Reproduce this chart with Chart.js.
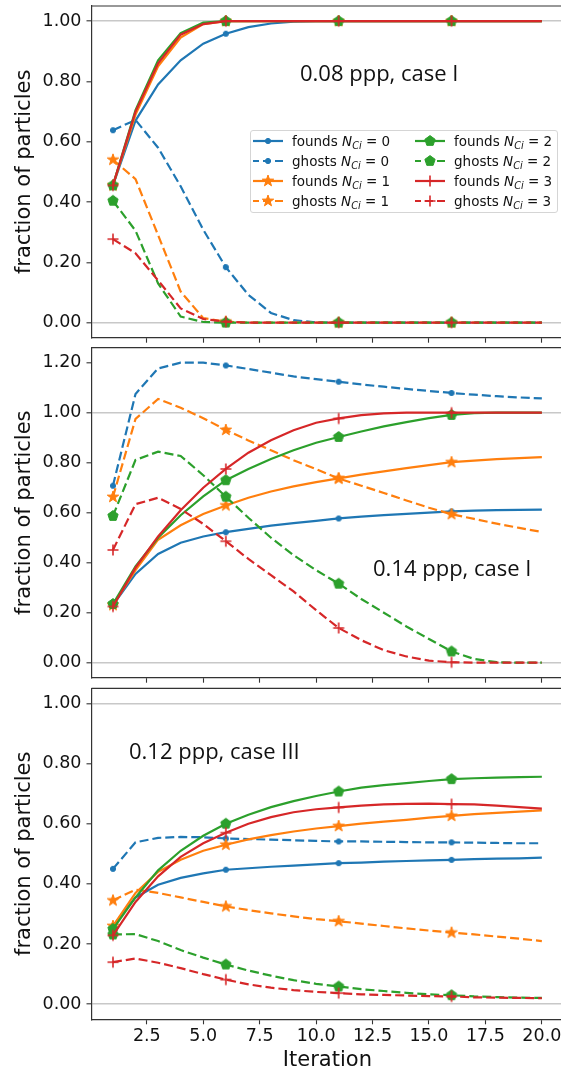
<!DOCTYPE html>
<html>
<head>
<meta charset="utf-8">
<script src="https://cdn.jsdelivr.net/npm/chart.js@4.4.1/dist/chart.umd.min.js"></script>
<style>
  html, body { margin: 0; padding: 0; background: #fff; }
  #figure { position: relative; width: 561px; height: 1073px; overflow: hidden; }
  #figure canvas { position: absolute; left: 0; }
  .note { position: absolute; font-family: "Open Sans", sans-serif; font-size: 22px; line-height: 22px; color: #111; white-space: nowrap; }
  #legend {
    position: absolute; left: 250px; top: 130px; width: 304px; height: 81px;
    border: 1px solid #d5d5d5; border-radius: 3px; background: rgba(255, 255, 255, 0.8);
    font-family: "DejaVu Sans", sans-serif; font-size: 13.5px; color: #111;
    display: grid; grid-auto-flow: column; grid-template-rows: repeat(4, 20px);
    grid-template-columns: 162px 140px; padding-left: 2px;
  }
  #legend .item { display: flex; align-items: center; white-space: nowrap; }
  #legend svg { margin-right: 9px; flex: none; }
  #legend sub { font-size: 0.72em; vertical-align: -0.3em; line-height: 0; }
</style>
</head>
<body>
<div id="figure">
  <canvas id="panelA" width="600" height="345" style="top:0px"></canvas>
  <canvas id="panelB" width="600" height="345" style="top:340px"></canvas>
  <canvas id="panelC" width="600" height="393" style="top:680px"></canvas>
  <div class="note" style="left:300px; top:61px">0.08 ppp, case I</div>
  <div class="note" style="left:373px; top:556px">0.14 ppp, case I</div>
  <div class="note" style="left:129px; top:739px">0.12 ppp, case III</div>
  <div id="legend"></div>
</div>
<script>
// x values and axis ticks
const iterations = [1, 2, 3, 4, 5, 6, 7, 8, 9, 10, 11, 12, 13, 14, 15, 16, 17, 18, 19, 20];
const xTicks = [2.5, 5, 7.5, 10, 12.5, 15, 17.5, 20];
const yTicksA = [0, 0.2, 0.4, 0.6, 0.8, 1.0];
const yTicksB = [0, 0.2, 0.4, 0.6, 0.8, 1.0, 1.2];
const yTicksC = [0, 0.2, 0.4, 0.6, 0.8, 1.0];
const nciValues = [0, 1, 2, 3];

// panel A: 0.08 ppp, case I
const foundsA0 = [0.455, 0.670, 0.790, 0.870, 0.925, 0.958, 0.980, 0.992, 0.998, 1, 1, 1, 1, 1, 1, 1, 1, 1, 1, 1];
const ghostsA0 = [0.638, 0.672, 0.580, 0.452, 0.308, 0.184, 0.092, 0.032, 0.008, 0.001, 0, 0, 0, 0, 0, 0, 0, 0, 0, 0];
const foundsA1 = [0.455, 0.690, 0.850, 0.945, 0.990, 1, 1, 1, 1, 1, 1, 1, 1, 1, 1, 1, 1, 1, 1, 1];
const ghostsA1 = [0.540, 0.476, 0.290, 0.103, 0.015, 0.003, 0, 0, 0, 0, 0, 0, 0, 0, 0, 0, 0, 0, 0, 0];
const foundsA2 = [0.455, 0.705, 0.870, 0.960, 0.995, 1, 1, 1, 1, 1, 1, 1, 1, 1, 1, 1, 1, 1, 1, 1];
const ghostsA2 = [0.404, 0.305, 0.130, 0.020, 0.002, 0, 0, 0, 0, 0, 0, 0, 0, 0, 0, 0, 0, 0, 0, 0];
const foundsA3 = [0.455, 0.700, 0.860, 0.955, 0.990, 1, 1, 1, 1, 1, 1, 1, 1, 1, 1, 1, 1, 1, 1, 1];
const ghostsA3 = [0.277, 0.230, 0.140, 0.047, 0.012, 0.003, 0, 0, 0, 0, 0, 0, 0, 0, 0, 0, 0, 0, 0, 0];

// panel B: 0.14 ppp, case I
const foundsB0 = [0.230, 0.355, 0.435, 0.480, 0.505, 0.522, 0.535, 0.548, 0.558, 0.567, 0.577, 0.584, 0.590, 0.595, 0.600, 0.605, 0.608, 0.610, 0.611, 0.612];
const ghostsB0 = [0.708, 1.075, 1.177, 1.200, 1.200, 1.189, 1.175, 1.160, 1.145, 1.134, 1.124, 1.113, 1.104, 1.095, 1.087, 1.079, 1.072, 1.066, 1.061, 1.057];
const foundsB1 = [0.230, 0.370, 0.492, 0.550, 0.595, 0.629, 0.660, 0.685, 0.705, 0.722, 0.737, 0.752, 0.765, 0.778, 0.790, 0.802, 0.808, 0.814, 0.818, 0.822];
const ghostsB1 = [0.663, 0.975, 1.055, 1.020, 0.978, 0.931, 0.889, 0.850, 0.810, 0.774, 0.737, 0.708, 0.679, 0.649, 0.620, 0.594, 0.575, 0.556, 0.539, 0.523];
const foundsB2 = [0.235, 0.385, 0.500, 0.590, 0.665, 0.730, 0.775, 0.815, 0.850, 0.880, 0.903, 0.925, 0.945, 0.962, 0.978, 0.991, 0.998, 1, 1, 1];
const ghostsB2 = [0.587, 0.811, 0.844, 0.827, 0.750, 0.664, 0.580, 0.500, 0.430, 0.370, 0.316, 0.255, 0.200, 0.145, 0.095, 0.045, 0.015, 0.002, 0, 0];
const foundsB3 = [0.225, 0.380, 0.505, 0.610, 0.700, 0.775, 0.840, 0.890, 0.930, 0.960, 0.977, 0.990, 0.997, 1, 1, 1, 1, 1, 1, 1];
const ghostsB3 = [0.451, 0.634, 0.660, 0.615, 0.555, 0.486, 0.415, 0.350, 0.285, 0.210, 0.139, 0.090, 0.050, 0.025, 0.008, 0.002, 0, 0, 0, 0];

// panel C: 0.12 ppp, case III
const foundsC0 = [0.260, 0.355, 0.397, 0.420, 0.435, 0.447, 0.452, 0.457, 0.461, 0.465, 0.469, 0.471, 0.474, 0.476, 0.478, 0.480, 0.482, 0.484, 0.485, 0.487];
const ghostsC0 = [0.450, 0.538, 0.553, 0.556, 0.555, 0.551, 0.549, 0.547, 0.545, 0.543, 0.541, 0.541, 0.540, 0.539, 0.538, 0.538, 0.537, 0.536, 0.535, 0.535];
const foundsC1 = [0.260, 0.370, 0.440, 0.480, 0.510, 0.530, 0.548, 0.562, 0.574, 0.584, 0.592, 0.600, 0.607, 0.613, 0.620, 0.626, 0.632, 0.636, 0.640, 0.644];
const ghostsC1 = [0.345, 0.381, 0.370, 0.355, 0.340, 0.325, 0.313, 0.302, 0.292, 0.283, 0.276, 0.268, 0.260, 0.252, 0.245, 0.238, 0.232, 0.225, 0.218, 0.210];
const foundsC2 = [0.250, 0.355, 0.445, 0.510, 0.560, 0.600, 0.630, 0.655, 0.675, 0.692, 0.707, 0.720, 0.728, 0.735, 0.742, 0.748, 0.751, 0.753, 0.755, 0.756];
const ghostsC2 = [0.232, 0.233, 0.210, 0.180, 0.155, 0.132, 0.112, 0.095, 0.080, 0.068, 0.059, 0.050, 0.044, 0.038, 0.033, 0.030, 0.026, 0.024, 0.022, 0.021];
const foundsC3 = [0.229, 0.340, 0.425, 0.490, 0.535, 0.570, 0.600, 0.622, 0.638, 0.648, 0.654, 0.660, 0.664, 0.666, 0.667, 0.665, 0.664, 0.660, 0.655, 0.650];
const ghostsC3 = [0.140, 0.152, 0.138, 0.120, 0.100, 0.082, 0.066, 0.055, 0.047, 0.041, 0.037, 0.033, 0.031, 0.029, 0.027, 0.026, 0.023, 0.022, 0.021, 0.020];

const seriesColors = ["#1f77b4", "#ff7f0e", "#2ca02c", "#d62728"];
const ghostDash = [9, 4];

Chart.defaults.font.family = "'DejaVu Sans', sans-serif";
Chart.defaults.color = "#111";

// marker outlines (matplotlib '.', '*', 'p', '+'), as svg path strings
function polygonPath(n, rOuter, rInner) {
    const pts = [];
    const count = rInner ? n * 2 : n;
    for (let k = 0; k < count; k++) {
        const r = rInner && k % 2 === 1 ? rInner : rOuter;
        const a = -Math.PI / 2 + k * Math.PI * 2 / count;
        pts.push((r * Math.cos(a)).toFixed(2) + " " + (r * Math.sin(a)).toFixed(2));
    }
    return "M " + pts.join(" L ") + " Z";
}
const markerShapes = [
    { d: "M -2.6 0 A 2.6 2.6 0 1 0 2.6 0 A 2.6 2.6 0 1 0 -2.6 0 Z", fill: true },
    { d: polygonPath(5, 6, 2.4), fill: true },
    { d: polygonPath(5, 5.4), fill: true },
    { d: "M -5.5 0 L 5.5 0 M 0 -5.5 L 0 5.5", fill: false }
];

function markerImage(shape, color) {
    const c = document.createElement("canvas");
    c.width = 16;
    c.height = 16;
    const g = c.getContext("2d");
    g.translate(8, 8);
    const p = new Path2D(shape.d);
    g.strokeStyle = color;
    g.lineWidth = shape.fill ? 1 : 1.6;
    if (shape.fill) {
        g.fillStyle = color;
        g.fill(p);
    }
    g.stroke(p);
    return c;
}

function makeDatasets(founds, ghosts) {
    const out = [];
    nciValues.forEach(function (n, i) {
        const color = seriesColors[i];
        const img = markerImage(markerShapes[i], color);
        [["founds", founds[i]], ["ghosts", ghosts[i]]].forEach(function (pair) {
            out.push({
                label: pair[0] + " N_Ci = " + n,
                kind: pair[0],
                nci: n,
                data: pair[1],
                borderColor: color,
                backgroundColor: color,
                borderWidth: 2.2,
                borderDash: pair[0] === "ghosts" ? ghostDash : [],
                pointStyle: img,
                pointRadius: ctx => ctx.dataIndex % 5 === 0 ? 4 : 0,
                tension: 0,
                fill: false
            });
        });
    });
    out.forEach((ds, i) => ds.order = out.length - i);
    return out;
}

// top and right spines
const frame = {
    id: "frame",
    beforeDatasetsDraw(chart) {
        const { ctx, chartArea } = chart;
        ctx.save();
        ctx.strokeStyle = "#333";
        ctx.lineWidth = 1.2;
        ctx.beginPath();
        ctx.moveTo(chartArea.left, chartArea.top);
        ctx.lineTo(chartArea.right, chartArea.top);
        ctx.lineTo(chartArea.right, chartArea.bottom);
        ctx.stroke();
        ctx.restore();
    }
};

function createPanel(canvasId, datasets, yTicks, yMin, yMax, padTop, xHeight, lastPanel) {
    const ctx = document.getElementById(canvasId).getContext("2d");
    return new Chart(ctx, {
        type: "line",
        data: { labels: iterations, datasets: datasets },
        plugins: [frame],
        options: {
            responsive: false,
            animation: false,
            events: [],
            layout: { autoPadding: false, padding: { top: padTop, right: 36.7, bottom: 0, left: 0 } },
            plugins: { legend: { display: false }, tooltip: { enabled: false } },
            scales: {
                x: {
                    type: "linear",
                    min: 0.05,
                    max: 20.95,
                    afterBuildTicks: s => { s.ticks = xTicks.map(v => ({ value: v })); },
                    afterFit: s => { s.height = xHeight; s.paddingLeft = 0; s.paddingRight = 0; },
                    grid: { drawOnChartArea: false, tickColor: "#333", tickLength: 5, tickWidth: 1.1 },
                    border: { color: "#333", width: 1.2 },
                    ticks: {
                        display: lastPanel, autoSkip: false, maxRotation: 0, padding: 2,
                        font: { size: 17.5 }, callback: v => v.toFixed(1)
                    },
                    title: { display: lastPanel, text: "Iteration", font: { size: 21 }, padding: { top: 0, bottom: 0 } }
                },
                y: {
                    min: yMin,
                    max: yMax,
                    afterBuildTicks: s => { s.ticks = yTicks.map(v => ({ value: v })); },
                    afterFit: s => { s.width = 91.5; s.paddingTop = 0; s.paddingBottom = 0; },
                    grid: {
                        color: c => (c.tick && (c.tick.value === 0 || c.tick.value === 1)) ? "#c8c8c8" : "rgba(0,0,0,0)",
                        lineWidth: 1.6,
                        tickColor: "#333", tickLength: 5, tickWidth: 1.1
                    },
                    border: { color: "#333", width: 1.2 },
                    ticks: { autoSkip: false, padding: 5, font: { size: 17.5 }, callback: v => v.toFixed(2) },
                    title: { display: true, text: "fraction of particles", font: { size: 21 }, padding: { top: 11.5, bottom: 0 } }
                }
            }
        }
    });
}

const chartA = createPanel("panelA", makeDatasets([foundsA0, foundsA1, foundsA2, foundsA3], [ghostsA0, ghostsA1, ghostsA2, ghostsA3]),
    yTicksA, -0.05, 1.05, 6, 7.3, false);
const chartB = createPanel("panelB", makeDatasets([foundsB0, foundsB1, foundsB2, foundsB3], [ghostsB0, ghostsB1, ghostsB2, ghostsB3]),
    yTicksB, -0.06, 1.26, 7.7, 7.3, false);
const chartC = createPanel("panelC", makeDatasets([foundsC0, foundsC1, foundsC2, foundsC3], [ghostsC0, ghostsC1, ghostsC2, ghostsC3]),
    yTicksC, -0.05, 1.05, 8.3, 53.7, true);

// legend (top panel), built from the datasets
const legendBox = document.getElementById("legend");
chartA.data.datasets.forEach(function (ds, i) {
    const shape = markerShapes[nciValues.indexOf(ds.nci)];
    const dash = ds.kind === "ghosts" ? ' stroke-dasharray="8 4" stroke-dashoffset="2"' : "";
    const mark = shape.fill
        ? '<path d="' + shape.d + '" fill="' + ds.borderColor + '" stroke="' + ds.borderColor + '" stroke-width="1"/>'
        : '<path d="' + shape.d + '" fill="none" stroke="' + ds.borderColor + '" stroke-width="1.6"/>';
    const item = document.createElement("div");
    item.className = "item";
    item.innerHTML =
        '<svg width="30" height="14" viewBox="-15 -7 30 14">' +
        '<line x1="-15" y1="0" x2="15" y2="0" stroke="' + ds.borderColor + '" stroke-width="2.2"' + dash + '/>' +
        mark + '</svg>' +
        '<span>' + ds.kind + ' <i>N</i><sub><i>Ci</i></sub> = ' + ds.nci + '</span>';
    legendBox.appendChild(item);
});
</script>
</body>
</html>
